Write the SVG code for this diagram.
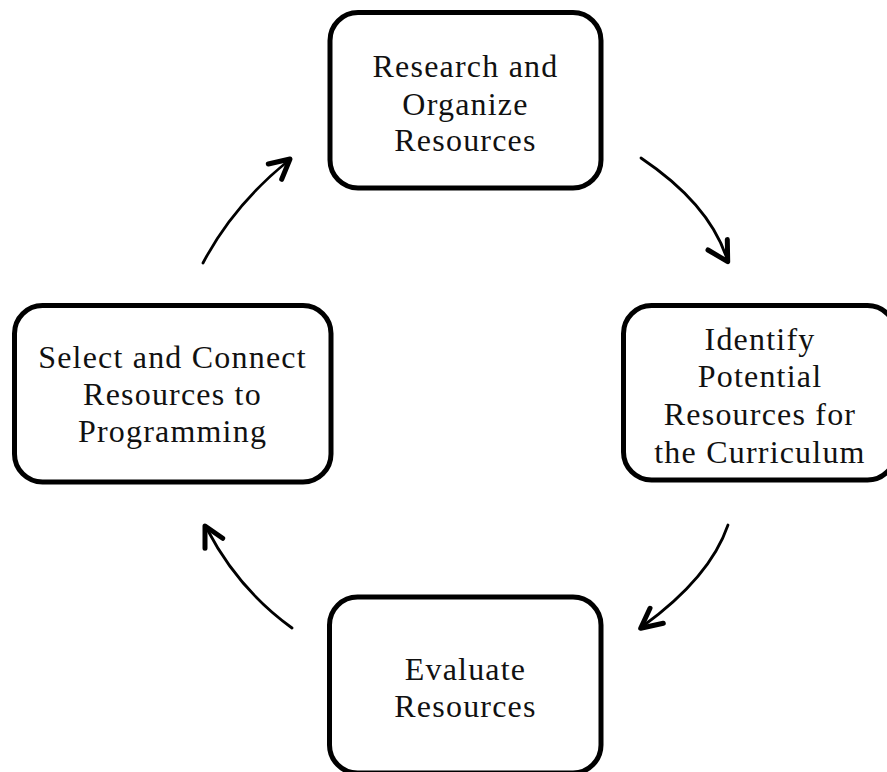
<svg xmlns="http://www.w3.org/2000/svg" width="887" height="772" viewBox="0 0 887 772">
<style>
.box{fill:#fff;stroke:#000;stroke-width:5}
.lbl{font-family:"Liberation Serif","Times New Roman",serif;font-size:32px;letter-spacing:1.2px;fill:#111;text-anchor:middle}
.line{fill:none;stroke:#000;stroke-width:2.8;stroke-linecap:round}
.head{fill:none;stroke:#000;stroke-width:5;stroke-linecap:round;stroke-linejoin:round}
</style>
<rect width="887" height="772" fill="#fff"/>
<g id="node-research">
<rect class="box" x="330" y="12.5" width="271" height="175.5" rx="28"/>
<text class="lbl" x="465.5" y="77">Research and</text>
<text class="lbl" x="465.5" y="115">Organize</text>
<text class="lbl" x="465.5" y="151">Resources</text>
</g>
<g id="node-identify">
<rect class="box" x="623.5" y="305.5" width="272" height="174.5" rx="28"/>
<text class="lbl" x="760" y="350">Identify</text>
<text class="lbl" x="760" y="387">Potential</text>
<text class="lbl" x="760" y="425">Resources for</text>
<text class="lbl" x="760" y="463">the Curriculum</text>
</g>
<g id="node-evaluate">
<rect class="box" x="329.5" y="597" width="271.5" height="176" rx="28"/>
<text class="lbl" x="465.5" y="680">Evaluate</text>
<text class="lbl" x="465.5" y="717">Resources</text>
</g>
<g id="node-select">
<rect class="box" x="14.5" y="305.5" width="316.5" height="176.5" rx="28"/>
<text class="lbl" x="172.5" y="368">Select and Connect</text>
<text class="lbl" x="172.5" y="405">Resources to</text>
<text class="lbl" x="172.5" y="442">Programming</text>
</g>
<g id="connectors">
<path class="line" d="M641,158 Q709.5,204 727,259"/>
<polyline class="head" points="708,250 727.7,261.7 727.3,239.5"/>
<path class="line" d="M728,525 Q710,577.5 643,626"/>
<polyline class="head" points="650,608.3 640.7,628.3 663.3,623.3"/>
<path class="line" d="M292,628 Q238.6,589.6 207,529"/>
<polyline class="head" points="205,548.3 205,526 222.7,538.3"/>
<path class="line" d="M203,263 Q233,205.6 288,161"/>
<polyline class="head" points="268.3,164 290,159 281.7,179.3"/>
</g>
</svg>
